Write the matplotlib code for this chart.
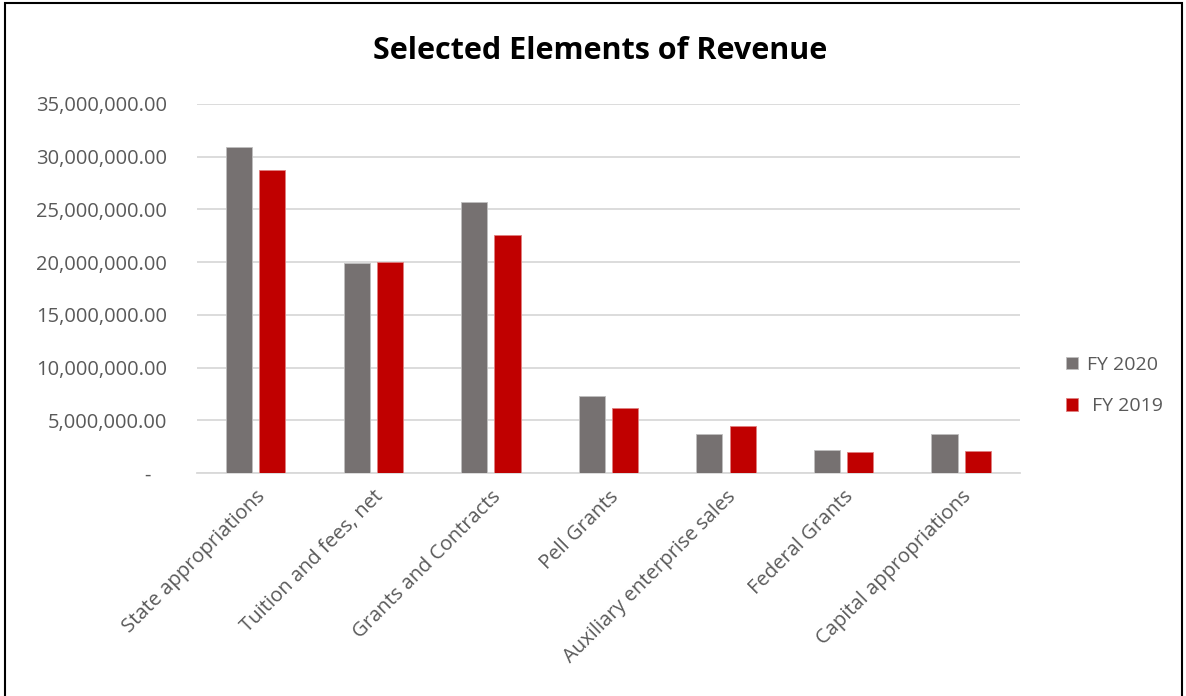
import numpy as np
import matplotlib.pyplot as plt
from matplotlib.patches import Rectangle

categories = ["State appropriations", "Tuition and fees, net", "Grants and Contracts",
              "Pell Grants", "Auxiliary enterprise sales", "Federal Grants",
              "Capital appropriations"]
fy2020 = [30960000, 19900000, 25700000, 7290000, 3700000, 2200000, 3660000]
fy2019 = [28700000, 20000000, 22600000, 6170000, 4490000, 1950000, 2070000]
yticks = [0, 5000000, 10000000, 15000000, 20000000, 25000000, 30000000, 35000000]

plt.rcParams['font.family'] = ['Open Sans', 'DejaVu Sans']
grey = '#767171'
red = '#C00000'
text_col = '#595959'

fig = plt.figure(figsize=(11.86, 6.96), dpi=100)
ax = fig.add_axes([0.166, 0.3204, 0.694, 0.5302])

x = np.arange(len(categories))
w = 0.222
off = 0.142
ax.bar(x - off, fy2020, w, color=grey, edgecolor='#BFBFBF', linewidth=0.6, label='FY 2020', zorder=3)
ax.bar(x + off, fy2019, w, color=red, edgecolor='#E08080', linewidth=0.6, label=' FY 2019', zorder=3)

ax.set_xlim(-0.5, len(categories) - 0.5)
ax.set_ylim(0, 35000000)
ax.set_yticks(yticks)
ax.set_yticklabels(["-   " if v == 0 else f"{v:,.2f}" for v in yticks])
ax.yaxis.grid(True, color='#D9D9D9', linewidth=1.3, zorder=0)
ax.set_xticks(x)
ax.set_xticklabels(categories, rotation=45, ha='right', rotation_mode='anchor')
ax.tick_params(axis='both', length=0, colors=text_col, labelsize=14.5)
ax.tick_params(axis='y', pad=21.5)
ax.tick_params(axis='x', pad=10)
for s in ['top', 'right', 'left']:
    ax.spines[s].set_visible(False)
ax.spines['bottom'].set_color('#D9D9D9')
ax.spines['bottom'].set_linewidth(1.3)

fig.suptitle("Selected Elements of Revenue", fontsize=22, fontweight='bold', x=0.506, y=0.948)

leg = fig.legend(loc='center left', bbox_to_anchor=(0.884, 0.446), frameon=False,
                 fontsize=14, labelspacing=1.2, handlelength=0.6, handleheight=0.6,
                 handletextpad=0.5)
for t in leg.get_texts():
    t.set_color(text_col)

fig.patches.append(Rectangle((5 / 1186, -0.05), 1177 / 1186, 1.05 - 3 / 696,
                             transform=fig.transFigure, fill=False,
                             edgecolor='black', linewidth=1.5))

fig.savefig("out.png", dpi=100)
